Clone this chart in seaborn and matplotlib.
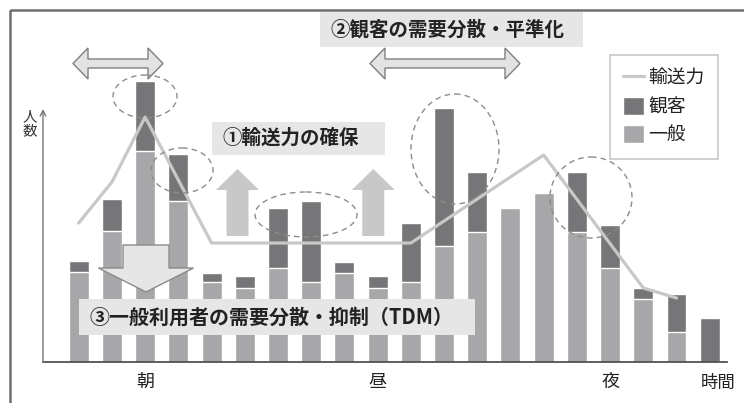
import matplotlib
matplotlib.use("Agg")
import matplotlib.pyplot as plt
import seaborn as sns
import pandas as pd
from matplotlib.patches import Rectangle, Ellipse, Polygon, Patch
from matplotlib.lines import Line2D

# ---------------- data ----------------
slots = [str(i) for i in range(1, 21)]
general = [9.0, 13.1, 21.1, 16.1, 8.0, 7.4, 9.4, 8.0, 8.9, 7.4,
           8.0, 11.6, 13.0, 15.4, 16.9, 13.0, 9.4, 6.3, 3.0, 0.0]
spectators = [1.1, 3.2, 7.0, 4.7, 0.9, 1.2, 6.0, 8.1, 1.1, 1.2,
              5.9, 13.8, 6.0, 0.0, 0.0, 6.0, 4.3, 1.1, 3.8, 4.4]
capacity_slot = [0, 1, 2, 4, 10, 14, 17, 18]
capacity = [13.9, 18.0, 24.5, 11.9, 11.9, 20.7, 7.4, 6.4]
period_slot = [2, 9, 16]
period_labels = ["朝", "昼", "夜"]
legend_labels = ["輸送力", "観客", "一般"]
y_label = "人\n数"
x_label = "時間"
note1 = "①輸送力の確保"
note2 = "②観客の需要分散・平準化"
note3 = "③一般利用者の需要分散・抑制（TDM）"

total = [g + s for g, s in zip(general, spectators)]
df = pd.DataFrame({"slot": slots, "total": total, "general": general})

# ---------------- style ----------------
DARK = "#767678"
LIGHT = "#a7a7aa"
LINE = "#c8c8c8"
BOX = "#e6e6e6"
sns.set_theme(style="white")
plt.rcParams["font.family"] = ["Noto Sans CJK JP", "DejaVu Sans"]

W, H = 744, 403
fig = plt.figure(figsize=(W / 100, H / 100), dpi=100)
fig.patch.set_facecolor("white")
ax = fig.add_axes([43 / W, (H - 362) / H, (727 - 43) / W, 350 / H])

sns.barplot(data=df, x="slot", y="total", order=slots, color=DARK,
            saturation=1, width=0.6, errorbar=None, ax=ax)
sns.barplot(data=df, x="slot", y="general", order=slots, color=LIGHT,
            saturation=1, width=0.6, errorbar=None, ax=ax)
sns.lineplot(x=capacity_slot, y=capacity, color=LINE, lw=2.3, ax=ax,
             zorder=3, sort=False)

ax.set_xlim(-1.075, 19.52)
ax.set_ylim(0, 35)
for s in ["top", "right", "left"]:
    ax.spines[s].set_visible(False)
ax.spines["bottom"].set_color("#444444")
ax.spines["bottom"].set_linewidth(1.2)
ax.set_xticks(period_slot)
ax.set_xticklabels(period_labels, fontsize=13, color="#222222")
ax.tick_params(axis="x", length=0, pad=8)
ax.set_yticks([])
ax.set_xlabel("")
ax.set_ylabel("")

handles = [Line2D([], [], color=LINE, lw=2.3),
           Patch(facecolor=DARK), Patch(facecolor=LIGHT)]
leg = ax.legend(handles, legend_labels, loc="upper left",
                bbox_to_anchor=(610 / W, 1 - 55 / H),
                bbox_transform=fig.transFigure, frameon=True,
                fancybox=False, edgecolor="#c8c8c8", framealpha=1,
                fontsize=13.5, handlelength=1.1, handleheight=1.1,
                handletextpad=0.25, labelspacing=0.38, borderpad=0.7,
                borderaxespad=0)
leg.get_frame().set_linewidth(1.2)
for t in leg.get_texts():
    t.set_color("#222222")

# ---------------- overlay annotations (pixel coords) ----------------
ov = fig.add_axes([0, 0, 1, 1])
ov.set_xlim(0, W)
ov.set_ylim(H, 0)
ov.axis("off")
ov.set_zorder(5)

ov.add_patch(Rectangle((10, 10), 800, 500, fill=False, ec="#6e6e6e", lw=1.8))
ov.annotate("", xy=(43, 109), xytext=(43, 362),
            arrowprops=dict(arrowstyle="->", color="#777777", lw=1,
                            shrinkA=0, shrinkB=0, mutation_scale=10))
ov.text(30, 124, y_label, ha="center", va="center", fontsize=10.5,
        linespacing=1.0, color="#333333")
ov.text(718, 383, x_label, ha="center", va="center", fontsize=12.5,
        color="#222222")


def box(x0, y0, x1, y1, text, fs=14):
    ov.add_patch(Rectangle((x0, y0), x1 - x0, y1 - y0, fc=BOX, ec="none"))
    ov.text(x0 + 10, (y0 + y1) / 2, text, ha="left", va="center",
            fontsize=fs, fontweight="bold", color="#222222")


box(320, 12, 583, 47, note2)
box(212, 122, 385, 155, note1)
box(79, 299, 475, 335, note3, fs=14.4)


def double_arrow(x0, x1, yc, hh=15.5, sh=4.5, hl=15):
    pts = [(x0, yc), (x0 + hl, yc - hh), (x0 + hl, yc - sh), (x1 - hl, yc - sh),
           (x1 - hl, yc - hh), (x1, yc), (x1 - hl, yc + hh), (x1 - hl, yc + sh),
           (x0 + hl, yc + sh), (x0 + hl, yc + hh)]
    ov.add_patch(Polygon(pts, closed=True, fc="#e3e3e3", ec="#7f7f7f", lw=1))


double_arrow(73, 163, 63.5)
double_arrow(370, 520, 63.5)


def up_arrow(xc, ytip, ybot, hbase, hw=21.5, sw=11):
    pts = [(xc, ytip), (xc + hw, hbase), (xc + sw, hbase), (xc + sw, ybot),
           (xc - sw, ybot), (xc - sw, hbase), (xc - hw, hbase)]
    ov.add_patch(Polygon(pts, closed=True, fc="#c8c8c8", ec="none"))


up_arrow(237.5, 169, 236, 190)
up_arrow(373.3, 169, 236, 190)

xc = 146
pts = [(xc - 23, 245), (xc + 23, 245), (xc + 23, 268), (xc + 47.5, 268),
       (xc, 292), (xc - 47.5, 268), (xc - 23, 268)]
ov.add_patch(Polygon(pts, closed=True, fc="#e6e6e6", ec="#8a8a8a", lw=1))

for (cx, cy, w, h) in [(145, 96.5, 64, 43), (182, 170.5, 62, 45),
                       (306, 214.5, 102, 45), (455, 149, 88, 110),
                       (591, 197.5, 82, 81)]:
    ov.add_patch(Ellipse((cx, cy), w, h, fill=False, ec="#8c8c8c", lw=1,
                         ls=(0, (4, 3))))

fig.savefig("out.png", dpi=100)
